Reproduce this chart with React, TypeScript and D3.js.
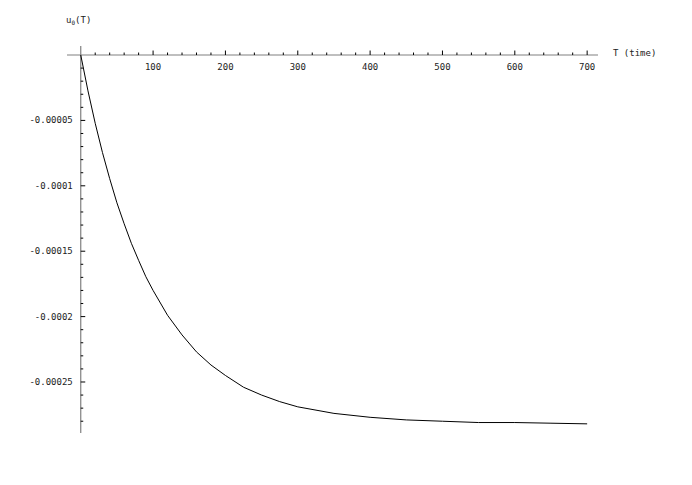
import React from 'react';
import { scaleLinear, line, range } from 'd3';

// time T and u0(T)
const times = [0, 10, 20, 30, 40, 50, 60, 70, 80, 90, 100, 120, 140, 160, 180, 200, 225, 250, 275, 300, 350, 400, 450, 500, 550, 600, 650, 700];
const u0 = [0, -2.74e-5, -5.22e-5, -7.45e-5, -9.45e-5, -1.13e-4, -1.29e-4, -1.44e-4, -1.57e-4, -1.695e-4, -1.8e-4, -1.99e-4, -2.14e-4, -2.27e-4, -2.37e-4, -2.45e-4, -2.54e-4, -2.6e-4, -2.65e-4, -2.69e-4, -2.74e-4, -2.77e-4, -2.79e-4, -2.8e-4, -2.81e-4, -2.81e-4, -2.815e-4, -2.82e-4];

const xTicks = [100, 200, 300, 400, 500, 600, 700];
const yTicks = [-0.00005, -0.0001, -0.00015, -0.0002, -0.00025];
const yTickLabels = ['-0.00005', '-0.0001', '-0.00015', '-0.0002', '-0.00025'];

const W = 692;
const H = 485;
const font = '"DejaVu Sans Mono", monospace';

const App = () => {
  const x = scaleLinear().domain([-19, 715]).range([67, 598]);
  const y = scaleLinear().domain([0.0000069, -0.000289]).range([46, 433]);

  const x0 = x(0);
  const y0 = y(0);

  const xMinor = range(20, 701, 20).filter(v => v % 100 !== 0);
  const yMinor = range(1, 29).map(i => -i * 0.00001).filter((v, i) => (i + 1) % 5 !== 0);

  const path = line<number>()
    .x((d, i) => x(times[i]))
    .y(d => y(d))(u0);

  return (
    <svg width={W} height={H} style={{ position: 'absolute', left: 0, top: 0, background: '#fff' }}>
      {/* axes */}
      <line x1={x.range()[0]} x2={x.range()[1]} y1={y0} y2={y0} stroke="#808080" strokeWidth={1.2} />
      <line x1={x0} x2={x0} y1={y.range()[0]} y2={y.range()[1]} stroke="#808080" strokeWidth={1.2} />

      {/* x ticks */}
      {xMinor.map(v => (
        <line key={'xm' + v} x1={x(v)} x2={x(v)} y1={y0} y2={y0 - 2.5} stroke="#000" strokeWidth={1} />
      ))}
      {xTicks.map(v => (
        <g key={'x' + v}>
          <line x1={x(v)} x2={x(v)} y1={y0} y2={y0 - 4.5} stroke="#000" strokeWidth={1} />
          <text x={x(v)} y={y0 + 15} textAnchor="middle" fontFamily={font} fontSize={9} fill="#222">{v}</text>
        </g>
      ))}

      {/* y ticks */}
      {yMinor.map(v => (
        <line key={'ym' + v} x1={x0} x2={x0 + 2.5} y1={y(v)} y2={y(v)} stroke="#000" strokeWidth={1} />
      ))}
      {yTicks.map((v, i) => (
        <g key={'y' + v}>
          <line x1={x0} x2={x0 + 4.5} y1={y(v)} y2={y(v)} stroke="#000" strokeWidth={1} />
          <text x={x0 - 8} y={y(v) + 3} textAnchor="end" fontFamily={font} fontSize={9} fill="#222">{yTickLabels[i]}</text>
        </g>
      ))}

      {/* axis labels */}
      <text x={66} y={23} fontFamily={font} fontSize={9} fill="#222">
        u<tspan fontSize={6} dy={2}>0</tspan><tspan dy={-2}>(T)</tspan>
      </text>
      <text x={613} y={56} fontFamily={font} fontSize={9} fill="#222">T (time)</text>

      {/* curve */}
      <path d={path || ''} fill="none" stroke="#000" strokeWidth={1} />
    </svg>
  );
};

export default App;
